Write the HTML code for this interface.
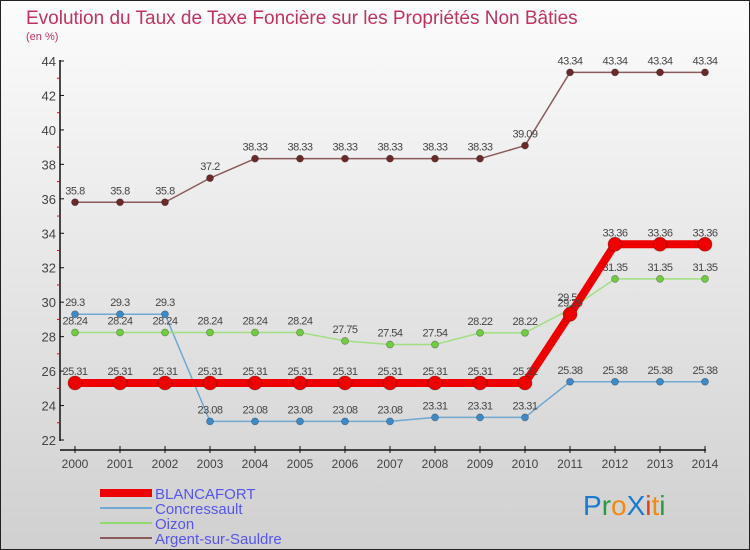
<!DOCTYPE html>
<html><head><meta charset="utf-8"><style>
body{margin:0}
#c{width:750px;height:550px;position:relative;overflow:hidden;background:linear-gradient(#fcfcfc,#d0d0d0);font-family:"Liberation Sans",sans-serif;}
#c svg{position:absolute;left:0;top:0}
</style></head><body>
<div id="c">
<svg id="s" width="750" height="550">
<rect x="0.5" y="0.5" width="749" height="549" fill="none" stroke="#222"/>
<text x="26" y="24" font-size="19" fill="#c0335f">Evolution du Taux de Taxe Foncière sur les Propriétés Non Bâties</text>
<text x="26" y="40" font-size="11" fill="#c0335f">(en %)</text>
<g id="axes"></g><g id="series"></g>
<g>
<rect x="100" y="489" width="52" height="8" fill="#e00"/>
<text x="155" y="499" font-size="15" fill="#5555ee">BLANCAFORT</text>
<line x1="100" y1="508" x2="152" y2="508" stroke="#6fa8d0" stroke-width="2"/>
<text x="155" y="514" font-size="15" fill="#5555ee">Concressault</text>
<line x1="100" y1="523" x2="152" y2="523" stroke="#90d870" stroke-width="2"/>
<text x="155" y="529" font-size="15" fill="#5555ee">Oizon</text>
<line x1="100" y1="538" x2="152" y2="538" stroke="#8b5a5a" stroke-width="2"/>
<text x="155" y="544" font-size="15" fill="#5555ee">Argent-sur-Sauldre</text>
</g>
<g font-size="28" font-family="'Liberation Sans',sans-serif">
<text x="583" y="515"><tspan fill="#1a7ad0">P</tspan><tspan fill="#2a9a40">r</tspan><tspan fill="#f08a10">o</tspan><tspan fill="#1a7ad0">X</tspan><tspan fill="#e04010">i</tspan><tspan fill="#f08a10">t</tspan><tspan fill="#2a9a40">i</tspan></text>
</g>
</svg>
</div>
<script>
const years=[2000,2001,2002,2003,2004,2005,2006,2007,2008,2009,2010,2011,2012,2013,2014];
const blancafort=[25.31,25.31,25.31,25.31,25.31,25.31,25.31,25.31,25.31,25.31,25.31,29.29,33.36,33.36,33.36];
const concressault=[29.3,29.3,29.3,23.08,23.08,23.08,23.08,23.08,23.31,23.31,23.31,25.38,25.38,25.38,25.38];
const oizon=[28.24,28.24,28.24,28.24,28.24,28.24,27.75,27.54,27.54,28.22,28.22,29.59,31.35,31.35,31.35];
const argent=[35.8,35.8,35.8,37.2,38.33,38.33,38.33,38.33,38.33,38.33,39.09,43.34,43.34,43.34,43.34];
const yTicks=[22,24,26,28,30,32,34,36,38,40,42,44];
const NS='http://www.w3.org/2000/svg';
function X(i){return 75+i*(630/(years.length-1));}
function Y(v){return 440-(v-22)*(379/22);}
function mk(t,a,p){const e=document.createElementNS(NS,t);for(const k in a)e.setAttribute(k,a[k]);p.appendChild(e);return e;}
const ax=document.getElementById('axes');
let e=mk('line',{x1:60,y1:Y(44)-1,x2:60,y2:441,stroke:'#111','stroke-width':1.5},ax);


e=mk('line',{x1:60,y1:450,x2:706,y2:450,stroke:'#111','stroke-width':1.5},ax);


yTicks.forEach(v=>{
 mk('line',{x1:60,y1:Y(v),x2:64,y2:Y(v),stroke:'#111'},ax);
 if(v<44)mk('line',{x1:57,y1:Y(v+1),x2:60,y2:Y(v+1),stroke:'#e00'},ax);
 const t=mk('text',{x:56,y:Y(v)+5,'font-size':13,fill:'#444','text-anchor':'end'},ax);t.textContent=v;
 
 
});
years.forEach((y,i)=>{
 mk('line',{x1:X(i),y1:446,x2:X(i),y2:453,stroke:'#111'},ax);
 const t=mk('text',{x:X(i),y:468,'font-size':12,fill:'#444','text-anchor':'middle'},ax);t.textContent=y;
 
 
});
const sg=document.getElementById('series');
function draw(vals,color,w,r,name,dot){
 const g=mk('g',{},sg);
 
 
 const pts=vals.map((v,i)=>X(i)+','+Y(v)).join(' ');
 mk('polyline',{points:pts,fill:'none',stroke:color,'stroke-width':w,'stroke-linejoin':'round'},g);
 vals.forEach((v,i)=>{
  const c=mk('circle',{cx:X(i),cy:Y(v),r:r,fill:dot,stroke:'rgba(0,0,0,0.3)','stroke-width':0.8},g);
  
  
  const t=mk('text',{x:X(i),y:Y(v)-8,'font-size':11,fill:'#444','text-anchor':'middle','letter-spacing':'-0.5'},g);t.textContent=v;
  
  
 });
}
draw(argent,'#8b5a5a',1.5,3.5,'argent','#6b2a2a');
draw(concressault,'#6fa8d0',1.5,3.5,'concressault','#3d8ac8');
draw(oizon,'#a0e080',1.5,3.5,'oizon','#70cc40');
draw(blancafort,'#ee0000',8,7,'blancafort','#ee0000');
</script>
</body></html>
